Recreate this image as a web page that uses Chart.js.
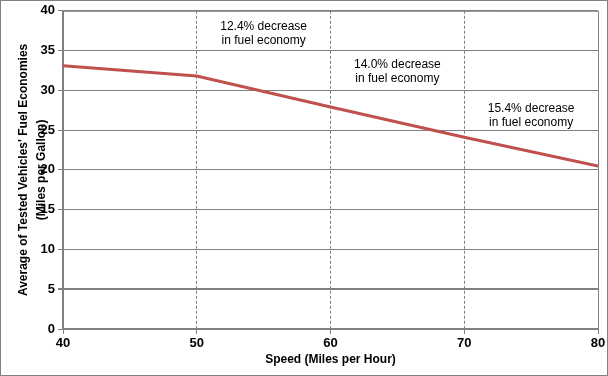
<!DOCTYPE html>
<html>
<head>
<meta charset="utf-8">
<script src="https://cdn.jsdelivr.net/npm/chart.js@4"></script>
<style>
  body { margin: 0; background: #fff; }
  #wrap { width: 608px; height: 376px; }
</style>
</head>
<body>
<div id="wrap"><canvas id="myChart"></canvas></div>
<script>
// speed (mph) and average fuel economy (mpg)
const speeds = [40, 50, 60, 70, 80];
const mpg = [33.1, 31.8, 27.9, 24.1, 20.5];

// text notes between the dashed lines
const noteText = [
    ['12.4% decrease', 'in fuel economy'],
    ['14.0% decrease', 'in fuel economy'],
    ['15.4% decrease', 'in fuel economy']
];
const noteX = [55, 65, 75];
const noteY = [38, 33.2, 27.7];

const gridGray = '#808080';
const font = 'Liberation Sans, Arial, sans-serif';

let frame = {
    id: 'frame',
    afterDraw: (chart) => {
        const ctx = chart.ctx;
        const a = chart.chartArea;
        const xs = chart.scales.x;
        const ys = chart.scales.y;
        ctx.save();
        ctx.strokeStyle = gridGray;
        ctx.lineWidth = 1;
        ctx.beginPath();
        ctx.moveTo(a.left, a.top + 0.5);
        ctx.lineTo(a.right + 0.5, a.top + 0.5);
        ctx.lineTo(a.right + 0.5, a.bottom);
        ctx.stroke();
        ctx.strokeStyle = '#7f7f7f';
        ctx.strokeRect(0.5, 0.5, chart.width - 1, chart.height - 1);

        ctx.fillStyle = '#000';
        ctx.font = '12px ' + font;
        ctx.textAlign = 'center';
        ctx.textBaseline = 'middle';
        noteText.forEach((lines, i) => {
            let px = xs.getPixelForValue(noteX[i]);
            let py = ys.getPixelForValue(noteY[i]);
            lines.forEach((t, j) => ctx.fillText(t, px, py + j * 14));
        });
        ctx.restore();
    }
};

let plot = () => {
    const ctx = document.getElementById('myChart');

    const dataset = {
        datasets: [{
            data: speeds.map((s, i) => ({ x: s, y: mpg[i] })),
            borderColor: '#c0504d',
            borderWidth: 3,
            pointRadius: 0,
            tension: 0,
            fill: false
        }]
    };

    const config = {
        type: 'line',
        data: dataset,
        options: {
            responsive: true,
            maintainAspectRatio: false,
            animation: false,
            layout: { padding: { top: 9, right: 10, left: 0, bottom: 0 } },
            plugins: { legend: { display: false }, tooltip: { enabled: false } },
            scales: {
                x: {
                    type: 'linear',
                    min: 40,
                    max: 80,
                    ticks: { stepSize: 10, color: '#000', font: { family: font, size: 13, weight: 'bold' }, padding: 2 },
                    grid: {
                        color: (c) => (c.tick && (c.tick.value === 40 || c.tick.value === 80)) ? 'rgba(0,0,0,0)' : gridGray,
                        tickColor: gridGray,
                        tickLength: 5
                    },
                    border: { color: gridGray, width: 2, dash: [3, 2] },
                    title: {
                        display: true,
                        text: 'Speed (Miles per Hour)',
                        color: '#000',
                        font: { family: font, size: 12, weight: 'bold' },
                        padding: { top: 4, bottom: 9 }
                    },
                    afterFit: (s) => { s.height = 47; }
                },
                y: {
                    min: 0,
                    max: 40,
                    ticks: { stepSize: 5, color: '#000', font: { family: font, size: 13, weight: 'bold' }, padding: 3 },
                    grid: {
                        color: gridGray,
                        lineWidth: (c) => (c.tick && c.tick.value === 5) ? 2 : 1,
                        tickColor: gridGray,
                        tickLength: 5
                    },
                    border: { color: gridGray, width: 2 },
                    title: {
                        display: true,
                        text: ["Average of Tested Vehicles' Fuel Economies", '(Miles per Gallon)'],
                        color: '#000',
                        font: { family: font, size: 12, weight: 'bold', lineHeight: 1.5 },
                        padding: { top: 15, bottom: 0 }
                    },
                    afterFit: (s) => { s.width = 63; }
                }
            }
        },
        plugins: [frame]
    };

    const chart = new Chart(ctx, config);
};

plot();
</script>
</body>
</html>
